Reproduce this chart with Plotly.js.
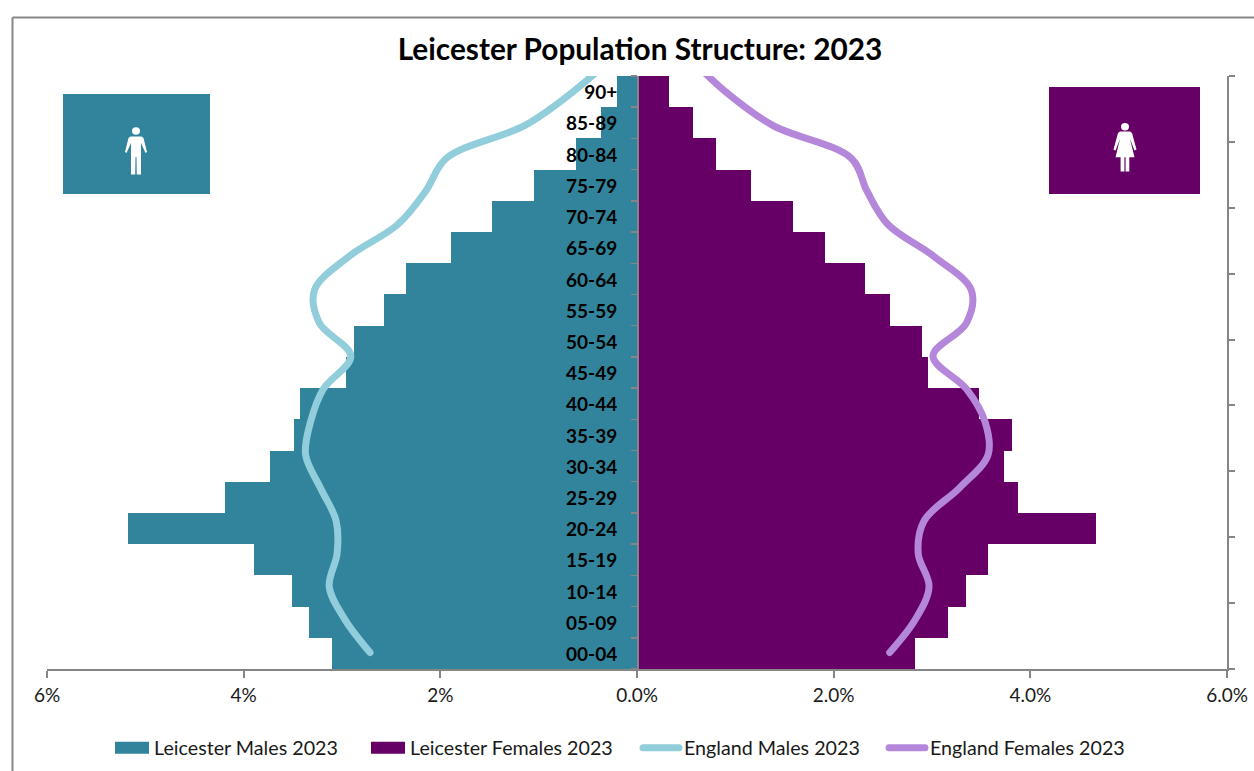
<!DOCTYPE html>
<html><head><meta charset="utf-8">
<script src="https://cdn.plot.ly/plotly-3.0.1.min.js"></script>
<style>
html,body{margin:0;padding:0;background:#fff}
.scatterlayer .js-line{stroke-linecap:round}
.legendlines path{stroke-linecap:round}
</style></head><body>
<div id="chart" style="width:1254px;height:771px"></div>
<script>
const ageBands = ["00-04","05-09","10-14","15-19","20-24","25-29","30-34","35-39","40-44","45-49","50-54","55-59","60-64","65-69","70-74","75-79","80-84","85-89","90+"];
const leicesterMales = [-3.10,-3.335,-3.51,-3.895,-5.18,-4.19,-3.73,-3.49,-3.43,-2.96,-2.88,-2.57,-2.35,-1.89,-1.475,-1.05,-0.62,-0.365,-0.2];
const leicesterFemales = [2.83,3.16,3.35,3.57,4.67,3.875,3.73,3.81,3.48,2.96,2.9,2.57,2.32,1.91,1.59,1.16,0.80,0.57,0.325];
const englandY = [0.25,0.75,1.25,1.75,2.25,2.75,3.25,3.75,4.25,4.75,5.25,5.75,6.25,6.75,7.25,7.75,8.25,8.75,9.25];
const englandMales = [-2.715,-2.97,-3.13,-3.05,-3.06,-3.22,-3.37,-3.32,-3.19,-2.91,-3.23,-3.28,-2.94,-2.43,-2.15,-1.94,-1.14,-0.66,-0.27];
const englandFemales = [2.57,2.83,2.97,2.86,2.92,3.28,3.57,3.54,3.35,3.01,3.35,3.40,3.03,2.55,2.34,2.18,1.38,0.91,0.55];
const xTickVals = [-6,-4,-2,0,2,4,6];
const xTickText = ["6%","4%","2%","0.0%","2.0%","4.0%","6.0%"];

const W=1254,H=771,L=47,R=1227,T=76,B=669;
const px=x=>(x-L)/(R-L), py=y=>(B-y)/(B-T);
const FONT="Lato, 'Open Sans', sans-serif", GREY="#868686";
const poly=pts=>"M"+pts.map(p=>px(p[0])+","+py(p[1])).join("L")+"Z";
const rect=(x0,y0,x1,y1,c)=>({type:"rect",xref:"paper",yref:"paper",x0:px(x0),x1:px(x1),y0:py(y0),y1:py(y1),fillcolor:c,line:{width:0},layer:"above"});
const circ=(cx,cy,rx,ry)=>({type:"circle",xref:"paper",yref:"paper",x0:px(cx-rx),x1:px(cx+rx),y0:py(cy+ry),y1:py(cy-ry),fillcolor:"#fff",line:{width:0},layer:"above"});
const pth=(pts)=>({type:"path",xref:"paper",yref:"paper",path:poly(pts),fillcolor:"#fff",line:{width:0},layer:"above"});
const seg=(x0,y0,x1,y1)=>({type:"line",xref:"paper",yref:"paper",x0:px(x0),x1:px(x1),y0:py(y0),y1:py(y1),line:{color:GREY,width:2},layer:"below"});

const shapes=[
 seg(12.5,17.5,1254,17.5), seg(12.5,17.5,12.5,771),
 rect(63,94,210,194,"#31849B"), circ(136,131,4,3.7),
 pth([[130.5,136.5],[141.5,136.5],[143.5,138],[147,152],[145.5,153],[141,143],[141,174.5],[136.8,174.5],[136.5,157],[135.5,157],[135.2,174.5],[131,174.5],[131,143],[126.5,153],[125,152],[128.5,138]]),
 rect(1049,87,1200,194,"#660066"), circ(1125,126.7,4,3.7),
 pth([[1120,131.5],[1130,131.5],[1132,133],[1136.5,149.5],[1134.5,150.5],[1130,139],[1134.5,157.3],[1129.3,157.3],[1129.3,171.5],[1125.6,171.5],[1125.6,157.3],[1124.4,157.3],[1124.4,171.5],[1120.6,171.5],[1120.6,157.3],[1115.5,157.3],[1120,139],[1115.5,150.5],[1113.5,149.5],[1118,133]])
];

const traces=[
 {type:"bar",orientation:"h",name:"Leicester Males 2023",y:ageBands,x:leicesterMales,marker:{color:"#31849B"},hoverinfo:"name+x+y"},
 {type:"bar",orientation:"h",name:"Leicester Females 2023",y:ageBands,x:leicesterFemales,marker:{color:"#660066"},hoverinfo:"name+x+y"},
 {type:"scatter",mode:"lines",name:"England Males 2023",x:englandMales,y:englandY,yaxis:"y2",line:{color:"#92CDDC",width:7,shape:"spline",smoothing:1}},
 {type:"scatter",mode:"lines",name:"England Females 2023",x:englandFemales,y:englandY,yaxis:"y2",line:{color:"#B587DA",width:7,shape:"spline",smoothing:1}}
];

const layout={
 width:W,height:H,paper_bgcolor:"#fff",plot_bgcolor:"#fff",
 margin:{l:L,r:W-R,t:T,b:H-B,autoexpand:false},
 barmode:"overlay",bargap:0,
 font:{family:FONT,size:18,color:"#1a1a1a"},
 title:{text:"<b>Leicester Population Structure: 2023</b>",font:{family:FONT,size:29.8,color:"#000"},xref:"container",x:640/W,xanchor:"center",yref:"container",y:1-50/H,yanchor:"middle"},
 xaxis:{range:[-6,6],tickmode:"array",tickvals:xTickVals,ticktext:xTickText,showgrid:false,zeroline:false,showline:true,linecolor:GREY,linewidth:2,ticks:"outside",ticklen:7,tickwidth:2,tickcolor:GREY,tickfont:{family:FONT,size:19,color:"#1a1a1a"},ticklabelstandoff:1,fixedrange:true},
 yaxis:{type:"category",categoryorder:"array",categoryarray:ageBands,range:[-0.5,18.5],anchor:"free",position:0.5,side:"left",showgrid:false,zeroline:false,showline:true,linecolor:GREY,linewidth:1.5,ticks:"outside",tickson:"boundaries",ticklen:6,tickwidth:1.5,tickcolor:GREY,ticklabelstandoff:16,ticklabelshift:1,tickfont:{family:FONT,size:19,color:"#000",weight:"bold"},fixedrange:true},
 yaxis2:{overlaying:"y",side:"right",anchor:"x",range:[0,9],dtick:1,tick0:0,showticklabels:false,showgrid:false,zeroline:false,showline:true,linecolor:GREY,linewidth:2,ticks:"outside",ticklen:6,tickwidth:2,tickcolor:GREY,fixedrange:true},
 legend:{orientation:"h",x:px(110),xanchor:"left",y:py(748),yanchor:"middle",itemwidth:34,entrywidth:215,entrywidthmode:"pixels",font:{family:FONT,size:19.7,color:"#1a1a1a"},bgcolor:"rgba(0,0,0,0)",traceorder:"normal"},
 shapes:shapes,
 showlegend:true
};

const legendOffsets=[0,256,530,776];
Plotly.newPlot("chart",traces,layout,{staticPlot:true,displayModeBar:false}).then(gd=>{
 gd.querySelectorAll(".legend .legendbar path, .legend .legendpoints path").forEach(p=>{
   if(p.closest(".legendbar")||p.getAttribute("d").indexOf("V")>=0){p.setAttribute("d","M-17,6H17V-6H-17Z");}
 });
 gd.querySelectorAll(".legendlines path").forEach(p=>{p.setAttribute("d","M3,0h36");});
 const items=gd.querySelectorAll(".legend .traces");
 items.forEach((t,i)=>{
   const m=/translate\(\s*([-\d.]+)[ ,]+([-\d.]+)/.exec(t.getAttribute("transform")||"");
   const y=m?m[2]:0;
   t.setAttribute("transform","translate("+legendOffsets[i]+","+y+")");
 });
});
</script>
</body></html>
